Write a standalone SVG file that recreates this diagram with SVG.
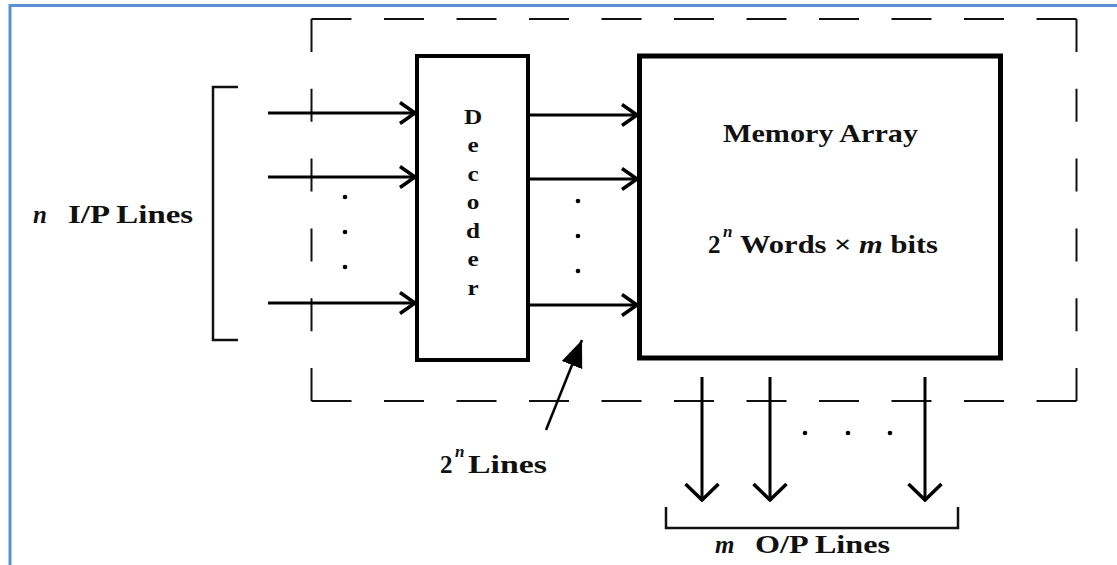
<svg xmlns="http://www.w3.org/2000/svg" width="1117" height="565" viewBox="0 0 1117 565">
<style>
.t{font-family:"Liberation Serif","Times New Roman",serif;font-weight:bold;fill:#111;}
.i{font-style:italic;}
.ln{stroke:#000;stroke-width:3;fill:none;}
.dash{stroke:#111;stroke-width:2;fill:none;}
.br{stroke:#111;stroke-width:2.5;fill:none;}
</style>
<defs>
<marker id="oh" viewBox="0 0 20 24" refX="18" refY="12" markerWidth="20" markerHeight="24" orient="auto" markerUnits="userSpaceOnUse"><path d="M3,1.5 L18,12 L3,22.5" fill="none" stroke="#000" stroke-width="3.5"/></marker>
<marker id="ov" viewBox="0 0 20 36" refX="18" refY="18" markerWidth="20" markerHeight="36" orient="auto" markerUnits="userSpaceOnUse"><path d="M2,1.5 L18,18 L2,34.5" fill="none" stroke="#000" stroke-width="3.5"/></marker>
<marker id="fh" viewBox="0 0 28 24" refX="27" refY="12" markerWidth="28" markerHeight="24" orient="auto" markerUnits="userSpaceOnUse"><path d="M0,1 L27,12 L0,23 Z" fill="#000"/></marker>
</defs>
<rect width="1117" height="565" fill="#fff"/>
<path d="M10,565 V5.5 H1117" fill="none" stroke="#5b8fd6" stroke-width="3"/>

<g id="boundary">
<line class="dash" x1="311.5" y1="19" x2="1076.5" y2="19" stroke-dasharray="40 32.5"/>
<line class="dash" x1="311.5" y1="401" x2="1076.5" y2="401" stroke-dasharray="40 32.5"/>
<line class="dash" x1="311.5" y1="19" x2="311.5" y2="401" stroke-dasharray="33 36.8"/>
<line class="dash" x1="1076.5" y1="19" x2="1076.5" y2="401" stroke-dasharray="33 36.8"/>
</g>

<g id="input-label">
<path class="br" d="M238,87 H213 V340 H238"/>
<text class="t i" x="33" y="223" font-size="25">n</text>
<text class="t" x="68" y="223" font-size="25" textLength="125" lengthAdjust="spacingAndGlyphs">I/P Lines</text>
</g>

<g id="decoder">
<rect x="417" y="56" width="111" height="304" fill="#fff" stroke="#000" stroke-width="4"/>
<g transform="translate(473,0) scale(1.2,1)">
<text class="t" x="0" y="124" font-size="21" text-anchor="middle">D</text>
<text class="t" x="0" y="152" font-size="21" text-anchor="middle">e</text>
<text class="t" x="0" y="181" font-size="21" text-anchor="middle">c</text>
<text class="t" x="0" y="209" font-size="21" text-anchor="middle">o</text>
<text class="t" x="0" y="238" font-size="21" text-anchor="middle">d</text>
<text class="t" x="0" y="266" font-size="21" text-anchor="middle">e</text>
<text class="t" x="0" y="295" font-size="21" text-anchor="middle">r</text>
</g>
</g>

<g id="memory">
<rect x="639.5" y="56" width="361" height="302" fill="#fff" stroke="#000" stroke-width="5"/>
<text class="t" x="723" y="142" font-size="25" textLength="195" lengthAdjust="spacingAndGlyphs">Memory Array</text>
<text class="t" x="708" y="253" font-size="25">2</text>
<text class="t i" x="723" y="237" font-size="17">n</text>
<text class="t" x="740" y="253" font-size="25" textLength="198" lengthAdjust="spacingAndGlyphs">Words × <tspan class="i">m</tspan> bits</text>
</g>

<g id="lines-label">
<text class="t" x="440" y="473" font-size="25">2</text>
<text class="t i" x="455" y="457" font-size="17">n</text>
<text class="t" x="468" y="473" font-size="25" textLength="79" lengthAdjust="spacingAndGlyphs">Lines</text>
</g>

<g id="output-label">
<path class="br" d="M666,507 V528 H958 V507"/>
<text class="t i" x="715" y="553" font-size="25">m</text>
<text class="t" x="755" y="553" font-size="25" textLength="135" lengthAdjust="spacingAndGlyphs">O/P Lines</text>
</g>

<g id="connectors">
<line class="ln" x1="268" y1="113" x2="415" y2="113" marker-end="url(#oh)"/>
<line class="ln" x1="268" y1="177" x2="415" y2="177" marker-end="url(#oh)"/>
<line class="ln" x1="268" y1="303" x2="415" y2="303" marker-end="url(#oh)"/>
<line class="ln" x1="529" y1="115" x2="637" y2="115" marker-end="url(#oh)"/>
<line class="ln" x1="529" y1="179" x2="637" y2="179" marker-end="url(#oh)"/>
<line class="ln" x1="529" y1="305" x2="637" y2="305" marker-end="url(#oh)"/>
<line class="ln" x1="702" y1="377" x2="702" y2="500" marker-end="url(#ov)"/>
<line class="ln" x1="770" y1="377" x2="770" y2="500" marker-end="url(#ov)"/>
<line class="ln" x1="925" y1="377" x2="925" y2="500" marker-end="url(#ov)"/>
<line x1="546" y1="430" x2="582" y2="340" stroke="#000" stroke-width="2.5" marker-end="url(#fh)"/>
<g fill="#000">
<circle cx="345" cy="197" r="2.3"/><circle cx="345" cy="232" r="2.3"/><circle cx="345" cy="267" r="2.3"/>
<circle cx="578" cy="201" r="2.3"/><circle cx="578" cy="236" r="2.3"/><circle cx="578" cy="271" r="2.3"/>
<circle cx="805" cy="433" r="2.3"/><circle cx="848" cy="433" r="2.3"/><circle cx="890" cy="433" r="2.3"/>
</g>
</g>
</svg>
